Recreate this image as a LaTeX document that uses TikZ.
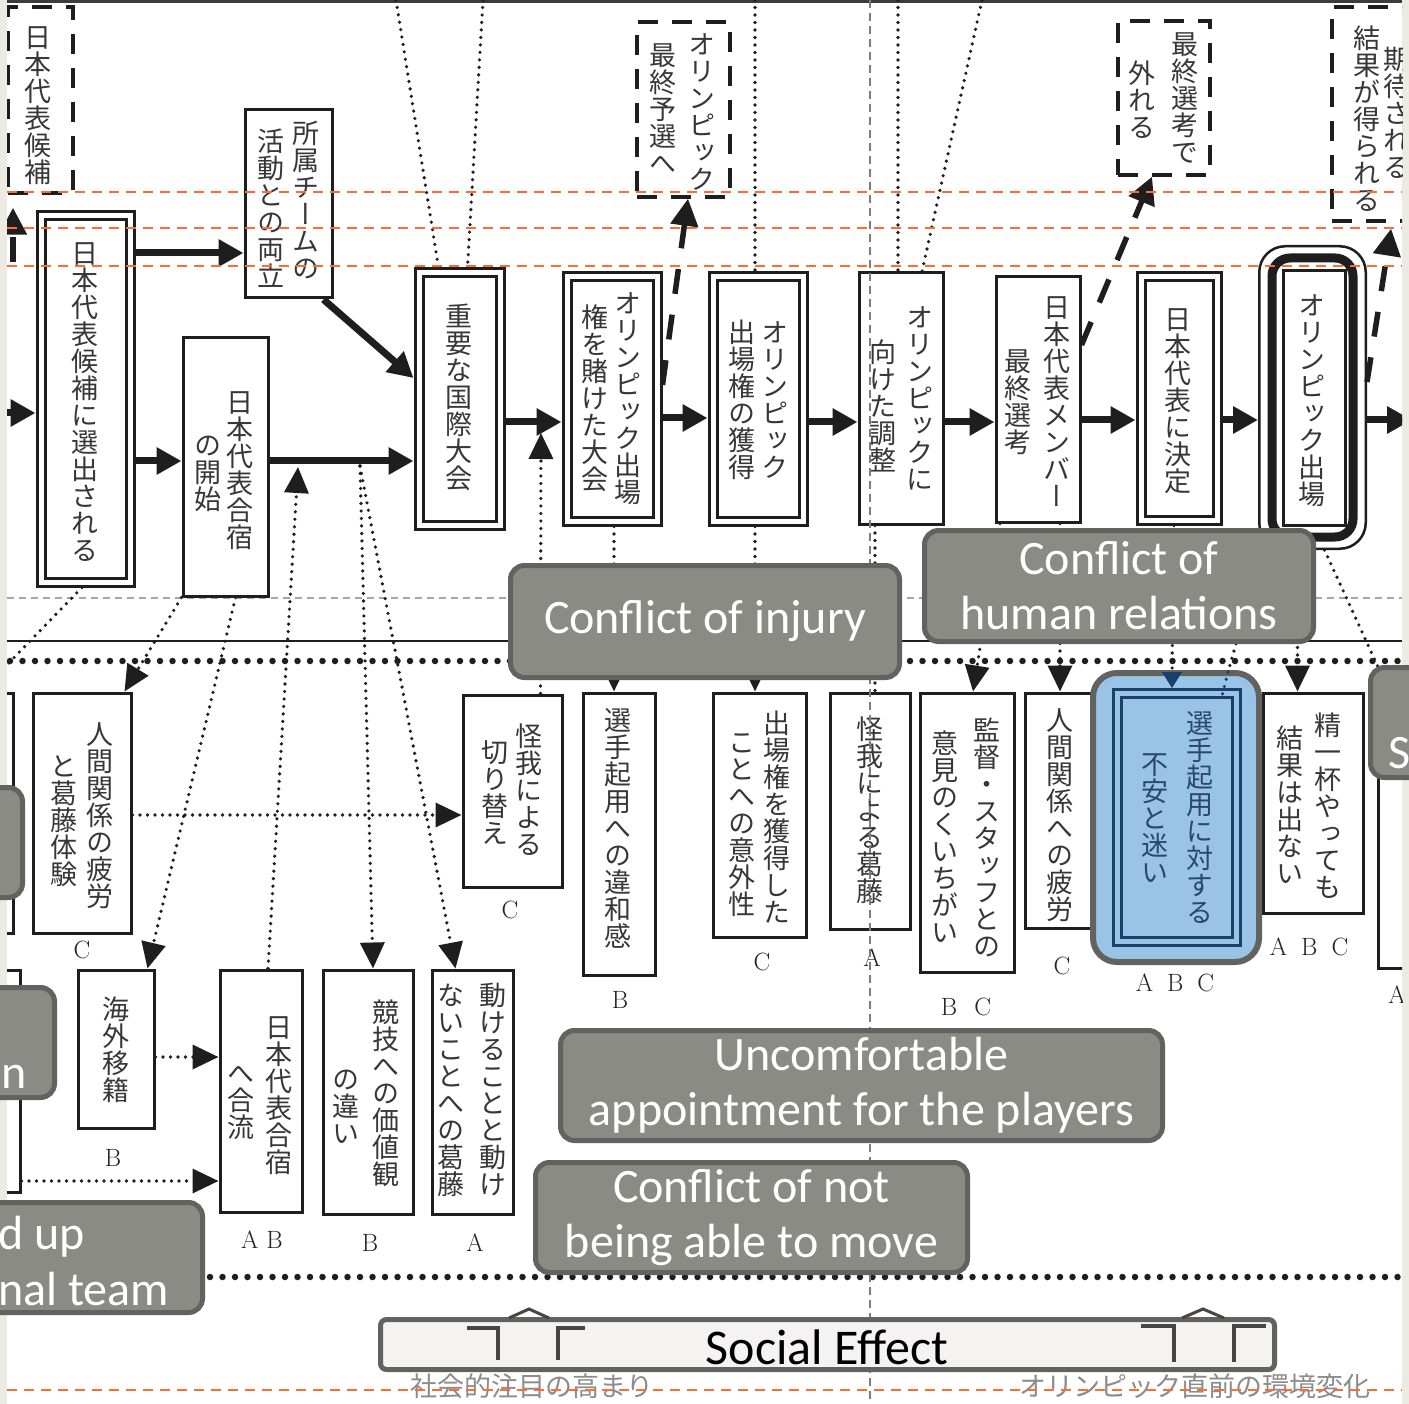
\documentclass[tikz,border=0pt]{standalone}
\usepackage{fontspec}
\usetikzlibrary{arrows.meta}
\newfontfamily\jpv[RawFeature=+vert]{Noto Sans CJK JP}
\newfontfamily\jph{Noto Sans CJK JP}
\newfontfamily\calfont{Carlito}
\definecolor{boxcol}{RGB}{30,30,30}
\definecolor{jpcol}{RGB}{55,55,55}
\definecolor{lblcol}{RGB}{35,35,35}
\definecolor{beige}{RGB}{237,234,226}
\definecolor{orangec}{RGB}{255,106,60}
\definecolor{cfill}{RGB}{139,139,133}
\definecolor{cbord}{RGB}{98,98,94}
\definecolor{sfill}{RGB}{244,243,241}
\definecolor{bluef}{RGB}{153,196,230}
\definecolor{navy}{RGB}{25,65,108}
\definecolor{navyt}{RGB}{40,72,110}
\definecolor{gdc}{RGB}{165,165,165}
\definecolor{vdc}{RGB}{125,125,125}
\definecolor{sejp}{RGB}{140,140,140}
\definecolor{brkc}{RGB}{70,70,70}
\definecolor{topc}{RGB}{60,60,60}
\ExplSyntaxOn
\NewDocumentCommand{\vcol}{O{0}m}
 {
  \vtop
   {
    \offinterlineskip
    \kern #1em
    \tl_map_inline:nn {#2}
     {
      \hbox_to_wd:nn {1em} { \hss \vrule ~ height ~ 0.88em ~ depth ~ 0.12em ~ width ~ 0pt ##1 \hss }
     }
   }
 }
\ExplSyntaxOff
\begin{document}
\begin{tikzpicture}[x=1pt,y=-1pt,
  sbox/.style={draw=boxcol, line width=3pt, fill=white, inner sep=0pt},
  dbox/.style={draw=boxcol, line width=3pt, double=white, double distance=5pt, fill=white, inner sep=0pt, outer sep=5.5pt},
  dashbox/.style={draw=boxcol, line width=3.5pt, dash pattern=on 20pt off 14pt, inner sep=0pt},
  jt/.style={inner sep=0pt, text=jpcol, font=\jpv\fontsize{27}{27}\selectfont},
  lbl/.style={inner sep=0pt, text=lblcol, font=\fontsize{25}{25}\selectfont},
  tarr/.style={draw=boxcol, line width=7pt, -{Triangle[length=25pt,width=26pt]}},
  darr/.style={draw=boxcol, line width=5.5pt, dash pattern=on 25pt off 21pt, -{Triangle[length=27pt,width=27pt]}},
  dotln/.style={draw=boxcol, line width=3.6pt, line cap=round, dash pattern=on 0pt off 7.5pt},
  dotarr/.style={dotln, -{Triangle[length=26pt,width=24pt]}},
  bigdots/.style={draw=boxcol, line width=6.5pt, line cap=round, dash pattern=on 0pt off 12.5pt},
  gdash/.style={draw=gdc, line width=1.3pt, dash pattern=on 7pt off 5pt},
  vdash/.style={draw=vdc, line width=1.3pt, dash pattern=on 8pt off 5pt},
  odash/.style={draw=orangec, line width=2pt, dash pattern=on 10pt off 7pt},
  cbox/.style={draw=cbord, fill=cfill, line width=5pt, rounded corners=14pt, text=white, font=\calfont\fontsize{48}{55}\selectfont, align=center, inner sep=0pt},
  ctext/.style={text=white, font=\calfont\fontsize{48}{55}\selectfont, inner sep=0pt},
  brk/.style={draw=brkc, line width=4pt}]
\useasboundingbox (0,0) rectangle (1409,1404);
\fill[beige] (0,0) rectangle (1409,1404);
\fill[white] (7,0) rectangle (1402,1404);
\begin{scope}
\clip (7,0) rectangle (1402,1404);
% rules
\draw[topc, line width=3pt] (7,1.5) -- (1402,1.5);
\draw[gdash] (7,598) -- (1402,598);
\draw[boxcol, line width=2pt] (7,641) -- (1402,641);
\draw[bigdots] (10,661) -- (1402,661);
\draw[bigdots] (10,1277) -- (1402,1277);
% top row boxes
\node[dashbox, minimum width=65pt, minimum height=186pt] (d1) at (40.5,100) {};
\node[dbox, minimum width=89pt, minimum height=366pt] (b2) at (85.5,399) {};
\node[sbox, minimum width=87pt, minimum height=188pt] (b3) at (288.5,204) {};
\node[sbox, minimum width=85pt, minimum height=258pt] (b4) at (225.5,467) {};
\node[dbox, minimum width=81pt, minimum height=252pt] (b5) at (459.5,399) {};
\node[dbox, minimum width=90pt, minimum height=244pt] (b6) at (612,399) {};
\node[dashbox, minimum width=93pt, minimum height=175pt] (d2) at (683.5,109.5) {};
\node[dbox, minimum width=90pt, minimum height=244pt] (b9) at (758,399) {};
\node[sbox, minimum width=84pt, minimum height=251pt] (b10) at (901,398.5) {};
\node[sbox, minimum width=84pt, minimum height=245pt] (b11) at (1038,399.5) {};
\node[dashbox, minimum width=92pt, minimum height=154pt] (d3) at (1164,98) {};
\node[dbox, minimum width=76pt, minimum height=243pt] (b13) at (1179,398.5) {};
\node[draw=boxcol, line width=2.5pt, fill=white, rounded corners=26pt, inner sep=0pt, minimum width=106.5pt, minimum height=302.5pt] (b14) at (1312.5,397.5) {};
\draw[boxcol, line width=9pt, rounded corners=18pt] (1272,258) rectangle (1353,537);
\draw[boxcol, line width=3pt] (1283.5,270.5) rectangle (1345.5,525.5);
\node[dashbox, minimum width=108pt, minimum height=214pt] (d4) at (1386,114) {};
% middle row boxes
\node[sbox, minimum width=46pt, minimum height=240pt] (mL) at (-10,813) {};
\node[sbox, minimum width=98pt, minimum height=240pt] (m1) at (82,813) {};
\node[sbox, minimum width=99pt, minimum height=192pt] (m2) at (512.5,791) {};
\node[sbox, minimum width=72pt, minimum height=282pt] (m3) at (619,834) {};
\node[sbox, minimum width=93pt, minimum height=244pt] (m4) at (759.5,815) {};
\node[sbox, minimum width=80pt, minimum height=236pt] (m5) at (870,811) {};
\node[sbox, minimum width=94pt, minimum height=279pt] (m6) at (967,832.5) {};
\node[sbox, minimum width=71pt, minimum height=235pt] (m7) at (1060.5,810.5) {};
\node[sbox, minimum width=100pt, minimum height=220pt] (m9) at (1313,803) {};
\node[sbox, minimum width=52pt, minimum height=275pt] (mR) at (1404,830.5) {};
% lower row boxes
\node[sbox, minimum width=50pt, minimum height=222pt] (lL) at (-5,1081) {};
\node[sbox, minimum width=76pt, minimum height=158pt] (l1) at (116,1049) {};
\node[sbox, minimum width=82pt, minimum height=242pt] (l2) at (261,1091) {};
\node[sbox, minimum width=90pt, minimum height=244pt] (l3) at (368,1092) {};
\node[sbox, minimum width=81pt, minimum height=244pt] (l4) at (472.5,1092) {};
% texts
\node[jt] (td1) at (38,105) {\vcol{日本代表候補}};
\node[jt] (tb2) at (85,402) {\vcol{日本代表候補に選出される}};
\node[jt] (tb3) at (288,205) {\vcol[0.3]{活動との両立}\kern8pt\vcol{所属チームの}};
\node[jt] (tb4) at (224,470) {\vcol[1.6]{の開始}\kern5pt\vcol{日本代表合宿}};
\node[jt] (tb5) at (459,397) {\vcol{重要な国際大会}};
\node[jt] (tb6) at (611,398) {\vcol[0.5]{権を賭けた大会}\kern6pt\vcol{オリンピック出場}};
\node[jt] (td2) at (682,112) {\vcol[0.4]{最終予選へ}\kern12pt\vcol{オリンピック}};
\node[jt] (tb9) at (758,400) {\vcol{出場権の獲得}\kern6pt\vcol{オリンピック}};
\node[jt] (tb10) at (901,398) {\vcol[1.3]{向けた調整}\kern10pt\vcol{オリンピックに}};
\node[jt] (tb11) at (1037,402) {\vcol[2]{最終選考}\kern12pt\vcol{日本代表メンバー}};
\node[jt] (td3) at (1163,98) {\vcol[1.1]{外れる}\kern16pt\vcol{最終選考で}};
\node[jt] (tb13) at (1178,400) {\vcol{日本代表に決定}};
\node[jt] (tb14) at (1312,400) {\vcol{オリンピック出場}};
\node[jt] (td4) at (1382,119) {\vcol{結果が得られる}\kern3pt\vcol[0.8]{期待される}};
\node[jt] (tm1) at (82,815) {\vcol[1.2]{と葛藤体験}\kern9pt\vcol{人間関係の疲労}};
\node[jt] (tm2) at (512,790) {\vcol[0.6]{切り替え}\kern7pt\vcol{怪我による}};
\node[jt] (tm3) at (618,828) {\vcol{選手起用への違和感}};
\node[jt] (tm4) at (759,818) {\vcol[0.7]{ことへの意外性}\kern8pt\vcol{出場権を獲得した}};
\node[jt] (tm5) at (870,810) {\vcol{怪我による葛藤}};
\node[jt] (tm6) at (966,838) {\vcol[0.5]{意見のくいちがい}\kern15pt\vcol{監督・スタッフとの}};
\node[jt] (tm7) at (1060,815) {\vcol{人間関係への疲労}};
\node[jt] (tm9) at (1309,806) {\vcol[0.5]{結果は出ない}\kern11pt\vcol{精一杯やっても}};
\node[jt] (tl1) at (116,1050) {\vcol{海外移籍}};
\node[jt] (tl2) at (260,1095) {\vcol[1.7]{へ合流}\kern11pt\vcol{日本代表合宿}};
\node[jt] (tl3) at (366,1093) {\vcol[2.5]{の違い}\kern13pt\vcol{競技への価値観}};
\node[jt] (tl4) at (472,1090) {\vcol{ないことへの葛藤}\kern15pt\vcol{動けることと動け}};
% letter labels
\node[lbl] (lm1) at (82,950) {C};
\node[lbl] (lm2) at (510,910) {C};
\node[lbl] (ll1) at (113,1158) {B};
\node[lbl] (ll2) at (262,1240) {A\hspace{8pt}B};
\node[lbl] (ll3) at (370,1243) {B};
\node[lbl] (ll4) at (475,1243) {A};
\node[lbl] (lm3) at (620,1000) {B};
\node[lbl] (lm4) at (762,962) {C};
\node[lbl] (lm5) at (872,958) {A};
\node[lbl] (lm6) at (966,1007) {B\hspace{17pt}C};
\node[lbl] (lm7) at (1062,966) {C};
\node[lbl] (lm8) at (1175,983) {A\hspace{14pt}B\hspace{14pt}C};
\node[lbl] (lm9) at (1309,947) {A\hspace{14pt}B\hspace{14pt}C};
\node[lbl] (lmR) at (1397,995) {A};
% thick arrows
\coordinate (eL1) at (0,413);
\coordinate (eR1) at (1412,420);
\draw[tarr] (eL1) -- (b2.west |- eL1);
\draw[tarr] (b2.east |- 0,253) -- (b3.west |- 0,253);
\draw[tarr] (b2.east |- 0,461) -- (b4.west |- 0,461);
\draw[tarr] ([xshift=-10pt]b3.south east) -- (b5.west |- 0,378);
\draw[tarr] (b4.east |- 0,461) -- (b5.west |- 0,461);
\draw[tarr] (b5.east |- 0,422) -- (b6.west |- 0,422);
\draw[tarr] (b6.east |- 0,418) -- (b9.west |- 0,418);
\draw[tarr] (b9.east |- 0,422) -- (b10.west |- 0,422);
\draw[tarr] (b10.east |- 0,422) -- (b11.west |- 0,422);
\draw[tarr] (b11.east |- 0,420) -- (b13.west |- 0,420);
\draw[tarr] (b13.east |- 0,420) -- (b14.west |- 0,420);
\draw[tarr] (b14.east |- 0,420) -- (eR1);
% dashed arrows
\coordinate (eL2) at (13,262);
\draw[darr, shorten >=13pt] (eL2) -- (d1.south -| eL2);
\draw[darr] (b6.east |- 0,385) -- (d2.south -| 688,0);
\draw[darr] (b11.east |- 0,345) -- (d3.south -| 1152,0);
\draw[darr, shorten >=6pt] (b14.east |- 0,382) -- (d4.south -| 1392,0);
% dotted connectors
\coordinate (ct1) at (396,0);
\coordinate (ct2) at (483,0);
\coordinate (ct3) at (755,0);
\coordinate (ct4) at (898,0);
\coordinate (ct5) at (982,0);
\draw[dotln] (ct1) -- ([xshift=-21pt]b5.north);
\draw[dotln] (ct2) -- ([xshift=8pt]b5.north);
\draw[dotln] (ct3) -- (b9.north -| ct3);
\draw[dotarr] (b9.south -| ct3) -- (m4.north -| ct3);
\draw[dotln] (ct4) -- (b10.north -| ct4);
\draw[dotln] (ct5) -- ([xshift=21pt]b10.north);
\coordinate (eL3) at (0,672);
\draw[dotln] (b2.south -| 82,0) -- (eL3);
\draw[dotarr] (b4.south west) -- ([xshift=-8pt]m1.north east);
\draw[dotarr] ([xshift=10pt]b4.south) -- ([xshift=-8pt]l1.north east);
\coordinate (cJ1) at (298,467);
\draw[dotarr] ([xshift=7pt]l2.north) -- (cJ1);
\coordinate (cJ2) at (360,466);
\draw[dotarr] (cJ2) -- ([xshift=5pt]l3.north);
\draw[dotarr] (cJ2) -- ([xshift=-17pt]l4.north);
\draw[dotarr] (m1.east |- 0,815) -- (m2.west |- 0,815);
\draw[dotarr] (l1.east |- 0,1057) -- (l2.west |- 0,1057);
\draw[dotarr] (lL.east |- 0,1181) -- (l2.west |- 0,1181);
\coordinate (cJ3) at (541,433);
\draw[dotarr] ([xshift=28pt]m2.north) -- (cJ3);
\draw[dotarr] ([xshift=2pt]b6.south) -- ([xshift=2pt]b6.south |- m3.north);
\draw[dotln] ([xshift=-26pt]b10.south) -- ([xshift=-26pt]b10.south |- m5.north);
\draw[dotarr] ([xshift=-38pt]b11.south) -- ([xshift=6pt]m6.north);
\draw[dotarr] ([xshift=22pt]b11.south) -- ([xshift=22pt]b11.south |- m7.north);
\coordinate (cB1) at (1172,672);
\draw[dotln] ([xshift=-5pt]b13.south) -- (cB1);
\coordinate (cB2) at (1228,672);
\coordinate (cB3) at (1221,700);
\draw[dotln] ([xshift=-50pt]b14.south) -- (cB2);
\draw[dotarr] ([xshift=-15pt]b14.south) -- ([xshift=-15pt]b14.south |- m9.north);
\coordinate (eR2) at (1384,680);
\draw[dotln] ([xshift=12pt]b14.south) -- (eR2);
% overlays
\draw[vdash] (870,0) -- (870,1404);
\node[font=\jph\fontsize{27}{27}\selectfont, text=sejp, inner sep=0pt] (se1) at (531.5,1386) {社会的注目の高まり};
\node[font=\jph\fontsize{27}{27}\selectfont, text=sejp, inner sep=0pt] (se2) at (1195,1386) {オリンピック直前の環境変化};
\foreach \yy in {192,228,266,1390} \draw[odash] (7,\yy) -- (1402,\yy);
\end{scope}
\begin{scope}
\clip (0,0) rectangle (1409,1404);
% highlighted box
\node[draw=cbord, fill=bluef, line width=6pt, rounded corners=24pt, inner sep=0pt, minimum width=166pt, minimum height=289pt] (m8) at (1176,817.5) {};
\node[draw=navy, line width=3pt, double=bluef, double distance=5pt, inner sep=0pt, outer sep=5.5pt, minimum width=119pt, minimum height=248pt] (m8i) at (1177,817.5) {};
\node[jt, text=navyt] (tm8) at (1177,818) {\vcol[1.5]{不安と迷い}\kern18pt\vcol{選手起用に対する}};
\draw[navy, line width=1pt, -{Triangle[length=16pt,width=20pt]}] (cB1) -- (m8i.north -| cB1);
\draw[dotln, draw=navy] (cB2) -- (cB3);
% callouts
\node[cbox, minimum width=389pt, minimum height=112pt] (cInj) at (705,621.5) {Conflict of injury};
\node[cbox, minimum width=389pt, minimum height=111pt] (cHum) at (1119,586) {Conflict of\\human relations};
\node[cbox, minimum width=602pt, minimum height=110pt] (cUnc) at (861.5,1085.5) {Uncomfortable\\appointment for the players};
\node[cbox, minimum width=432pt, minimum height=110pt] (cNot) at (751.5,1217.5) {Conflict of not\\being able to move};
\node[cbox, minimum width=120pt, minimum height=110pt] (cL1) at (-37.5,842.5) {};
\node[cbox, minimum width=152pt, minimum height=110pt] (cL2) at (-21.5,1042.5) {};
\node[cbox, minimum width=500pt, minimum height=110pt] (cL3) at (-47.5,1257.5) {};
\node[cbox, minimum width=227pt, minimum height=110pt] (cR) at (1484,722.5) {};
\node[ctext, anchor=base east] (cL2t) at (27,1088) {n};
\node[ctext, anchor=base west] (cL3a) at (-2,1249) {d up};
\node[ctext, anchor=base west] (cL3b) at (-2,1305) {nal team};
\node[ctext, anchor=base west] (cRt) at (1388,768) {S};
% social effect
\node[draw=cbord, fill=sfill, line width=5pt, rounded corners=6pt, inner sep=0pt, minimum width=894pt, minimum height=50pt] (soc) at (827.5,1344.5) {};
\node[font=\calfont\fontsize{50}{50}\selectfont, text=black, anchor=base, inner sep=0pt] (soct) at (827,1364) {Social Effect};
\draw[brk] (467,1328) -- (498,1328) -- (498,1360);
\draw[brk] (585,1328) -- (558,1328) -- (558,1360);
\draw[brkc, line width=3pt] (509,1318) -- (529,1309) -- (549,1318);
\draw[brk] (1141,1326) -- (1174,1326) -- (1174,1362);
\draw[brk] (1266,1326) -- (1234,1326) -- (1234,1362);
\draw[brkc, line width=3pt] (1182,1318) -- (1203,1309) -- (1224,1318);
\end{scope}
\end{tikzpicture}
\end{document}
